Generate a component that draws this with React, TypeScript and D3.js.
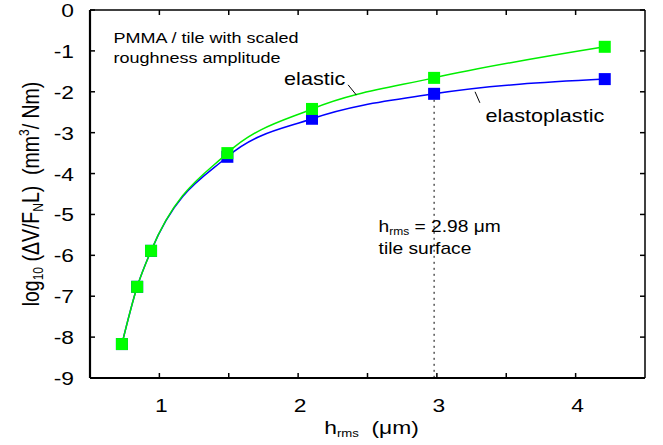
import React from "react";
import * as d3 from "d3";

// roughness amplitude h_rms (µm) and log10 wear rate
const hrms = [0.73, 0.84, 0.94, 1.49, 2.1, 2.98, 4.21];
const elastic = [-8.17, -6.77, -5.89, -3.5, -2.42, -1.66, -0.9];
const elastoplastic = [-8.17, -6.77, -5.89, -3.59, -2.66, -2.05, -1.69];

const xTickLabels = [1, 2, 3, 4];
const xTicks = [1, 1.5, 2, 2.5, 3, 3.5, 4];
const yTicks = [0, -1, -2, -3, -4, -5, -6, -7, -8, -9];
const tileHrms = 2.98;

const W = 663;
const H = 445;
const margin = { top: 10, right: 18, bottom: 67, left: 90 };
const FONT = "'Liberation Sans', Arial, Helvetica, sans-serif";
const SX = 1.2; // the original is a bit wide

const STxt = ({ x, y, size, anchor = "start", children }: any) => (
  <text
    transform={`translate(${x},${y}) scale(${SX},1)`}
    fontSize={size}
    textAnchor={anchor}
    fontFamily={FONT}
    fill="#000"
  >
    {children}
  </text>
);

export default function App() {
  const x = d3.scaleLinear().domain([0.5, 4.5]).range([margin.left, W - margin.right]);
  const y = d3.scaleLinear().domain([0, -9]).range([margin.top, H - margin.bottom]);
  const x0 = x.range()[0];
  const x1 = x.range()[1];
  const y0 = y.range()[0];
  const y1 = y.range()[1];

  const line = d3
    .line<number>()
    .x((_, i) => x(hrms[i]))
    .y((d) => y(d))
    .curve(d3.curveMonotoneX);

  const tileIdx = hrms.indexOf(tileHrms);
  const tk = 5;

  return (
    <svg width={W} height={H} style={{ position: "absolute", left: 0, top: 0, background: "#fff" }}>
      {/* frame ticks */}
      <g stroke="#000" strokeWidth={1.5}>
        {xTicks.map((t) => (
          <g key={"x" + t}>
            <line x1={x(t)} x2={x(t)} y1={y1} y2={y1 - tk} />
            <line x1={x(t)} x2={x(t)} y1={y0} y2={y0 + tk} />
          </g>
        ))}
        {yTicks.map((t) => (
          <g key={"y" + t}>
            <line x1={x0} x2={x0 + tk} y1={y(t)} y2={y(t)} />
            <line x1={x1} x2={x1 - tk} y1={y(t)} y2={y(t)} />
          </g>
        ))}
      </g>
      <line x1={x0} x2={x1} y1={y0} y2={y0} stroke="#000" strokeWidth={1.5} />
      <line x1={x1} x2={x1} y1={y0} y2={y1} stroke="#000" strokeWidth={1.5} />
      <line x1={x0} x2={x0} y1={y0} y2={y1} stroke="#000" strokeWidth={2.2} />
      <line x1={x0} x2={x1} y1={y1} y2={y1} stroke="#000" strokeWidth={2.2} />

      {/* tick labels */}
      {yTicks.map((t) => (
        <STxt key={"yl" + t} x={74} y={y(t) + 7} size={19} anchor="end">
          {t === 0 ? "0" : "-" + Math.abs(t)}
        </STxt>
      ))}
      {xTickLabels.map((t) => (
        <STxt key={"xl" + t} x={x(t) + 2} y={412} size={19} anchor="middle">
          {t}
        </STxt>
      ))}

      {/* axis titles */}
      <STxt x={(x0 + x1) / 2 + 4} y={434} size={19} anchor="middle">
        h<tspan fontSize={11} dy={3}>rms</tspan>
        <tspan dy={-3}>{"\u00a0\u00a0(\u03bcm)"}</tspan>
      </STxt>
      <text
        transform={`translate(39,${(y0 + y1) / 2}) scale(${SX},1) rotate(-90)`}
        fontSize={19.5}
        textAnchor="middle"
        fontFamily={FONT}
      >
        log<tspan fontSize={12} dy={3}>10</tspan>
        <tspan dy={-3}>{" (\u0394V/F"}</tspan>
        <tspan fontSize={12} dy={3}>N</tspan>
        <tspan dy={-3}>{"L)\u00a0\u00a0(mm"}</tspan>
        <tspan fontSize={12} dy={-8}>3</tspan>
        <tspan dy={8}>/ Nm)</tspan>
      </text>

      {/* tile surface marker */}
      <line
        x1={x(tileHrms)}
        x2={x(tileHrms)}
        y1={y(elastoplastic[tileIdx]) + 6}
        y2={y1}
        stroke="#000"
        strokeWidth={1}
        strokeDasharray="2,4"
      />

      {/* series */}
      <path d={line(elastoplastic) || ""} fill="none" stroke="#0000ff" strokeWidth={1.5} />
      {elastoplastic.map((v, i) => (
        <rect key={"b" + i} x={x(hrms[i]) - 6} y={y(v) - 6} width={12} height={12} fill="#0000ff" />
      ))}
      <path d={line(elastic) || ""} fill="none" stroke="#00ee00" strokeWidth={1.5} />
      {elastic.map((v, i) => (
        <rect key={"g" + i} x={x(hrms[i]) - 6} y={y(v) - 6} width={12} height={12} fill="#00ff00" />
      ))}

      {/* annotations */}
      <STxt x={x(0.67)} y={y(-0.8)} size={15}>PMMA / tile with scaled</STxt>
      <STxt x={x(0.67)} y={y(-1.3)} size={15}>roughness amplitude</STxt>

      <STxt x={x(2.34)} y={y(-1.83)} size={18} anchor="end">elastic</STxt>
      <line x1={x(2.36)} y1={y(-1.83)} x2={x(2.42)} y2={y(-2.08)} stroke="#000" strokeWidth={1} />

      <STxt x={x(3.35)} y={y(-2.74)} size={18}>elastoplastic</STxt>
      <line x1={x(3.275)} y1={y(-2.0)} x2={x(3.31)} y2={y(-2.27)} stroke="#000" strokeWidth={1} />

      <STxt x={x(2.58)} y={y(-5.43)} size={16}>
        h<tspan fontSize={10} dy={3}>rms</tspan>
        <tspan dy={-3}>{" = 2.98 \u03bcm"}</tspan>
      </STxt>
      <STxt x={x(2.58)} y={y(-5.97)} size={16}>tile surface</STxt>
    </svg>
  );
}
